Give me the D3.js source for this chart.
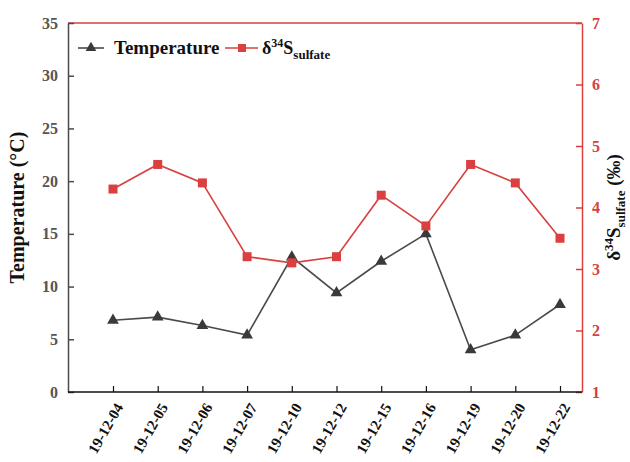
<!DOCTYPE html>
<html>
<head>
<meta charset="utf-8">
<script src="https://cdn.jsdelivr.net/npm/d3@7"></script>
<style>
  body { margin: 0; background: #fff; }
  svg text { font-family: "Liberation Serif", "Times New Roman", serif; font-weight: bold; }
</style>
</head>
<body>
<div id="chart"></div>
<script>
// Data
const dates = ["19-12-04", "19-12-05", "19-12-06", "19-12-07", "19-12-10", "19-12-12",
               "19-12-15", "19-12-16", "19-12-19", "19-12-20", "19-12-22"];
const temperature = [6.8, 7.1, 6.3, 5.4, 12.8, 9.4, 12.4, 15.0, 4.0, 5.4, 8.3];
const sulfate = [4.3, 4.7, 4.4, 3.2, 3.1, 3.2, 4.2, 3.7, 4.7, 4.4, 3.5];
const leftTicks = [0, 5, 10, 15, 20, 25, 30, 35];
const rightTicks = [1, 2, 3, 4, 5, 6, 7];

const width = 630, height = 462;
const margin = {top: 23, right: 48, bottom: 70, left: 68};
const red = "#d9403f";
const gray = "#4a4a4a";

const svg = d3.select("#chart").append("svg")
    .attr("width", width)
    .attr("height", height);

const x = d3.scalePoint()
    .domain(dates)
    .range([113, 560]);

const yLeft = d3.scaleLinear()
    .domain([0, 35])
    .range([height - margin.bottom, margin.top]);

const yRight = d3.scaleLinear()
    .domain([1, 7])
    .range([height - margin.bottom, margin.top]);

const x0 = margin.left, x1 = width - margin.right;
const yBottom = height - margin.bottom;

// top border (red)
svg.append("line")
    .attr("x1", x0).attr("x2", x1)
    .attr("y1", margin.top).attr("y2", margin.top)
    .attr("stroke", red).attr("stroke-width", 1.5);

// left axis
const leftAxis = svg.append("g")
    .attr("transform", `translate(${x0},0)`)
    .call(d3.axisLeft(yLeft).tickValues(leftTicks).tickSizeInner(-6).tickSizeOuter(0).tickPadding(10));
leftAxis.select(".domain").attr("stroke", gray).attr("stroke-width", 1.5);
leftAxis.selectAll(".tick line").attr("stroke", gray).attr("stroke-width", 1.5);
leftAxis.selectAll(".tick text").attr("fill", "#555").style("font-size", "16px");

// right axis
const rightAxis = svg.append("g")
    .attr("transform", `translate(${x1},0)`)
    .call(d3.axisRight(yRight).tickValues(rightTicks).tickFormat(d3.format("d"))
        .tickSizeInner(-6).tickSizeOuter(0).tickPadding(10));
rightAxis.select(".domain").attr("stroke", red).attr("stroke-width", 1.5);
rightAxis.selectAll(".tick line").attr("stroke", red).attr("stroke-width", 1.5);
rightAxis.selectAll(".tick text").attr("fill", red).style("font-size", "16px");

// bottom axis
const bottomAxis = svg.append("g")
    .attr("transform", `translate(0,${yBottom})`)
    .call(d3.axisBottom(x).tickSizeInner(-6).tickSizeOuter(0).tickPadding(6));
bottomAxis.select(".domain").attr("d", `M${x0},0H${x1}`).attr("stroke", "#111").attr("stroke-width", 1.5);
bottomAxis.selectAll(".tick line").attr("stroke", "#111").attr("stroke-width", 1.2);
bottomAxis.selectAll(".tick text")
    .attr("fill", "#111")
    .style("font-size", "15px")
    .attr("text-anchor", "end")
    .attr("dx", "0")
    .attr("dy", "0")
    .attr("transform", "translate(5,12) rotate(-60)");

// temperature line
svg.append("path")
    .datum(temperature)
    .attr("fill", "none")
    .attr("stroke", gray)
    .attr("stroke-width", 1.6)
    .attr("d", d3.line().x((d, i) => x(dates[i])).y(d => yLeft(d)));

svg.append("g").selectAll("path")
    .data(temperature)
    .join("path")
    .attr("transform", (d, i) => `translate(${x(dates[i])},${yLeft(d)})`)
    .attr("d", d3.symbol(d3.symbolTriangle, 60))
    .attr("fill", "#3a3a3a");

// sulfate line
svg.append("path")
    .datum(sulfate)
    .attr("fill", "none")
    .attr("stroke", red)
    .attr("stroke-width", 1.6)
    .attr("d", d3.line().x((d, i) => x(dates[i])).y(d => yRight(d)));

svg.append("g").selectAll("rect")
    .data(sulfate)
    .join("rect")
    .attr("x", (d, i) => x(dates[i]) - 4.5)
    .attr("y", d => yRight(d) - 4.5)
    .attr("width", 9)
    .attr("height", 9)
    .attr("fill", red);

// left axis title
svg.append("text")
    .attr("transform", `translate(24,${(margin.top + yBottom) / 2}) rotate(-90)`)
    .attr("text-anchor", "middle")
    .style("font-size", "20px")
    .attr("fill", "#111")
    .text("Temperature (\u00b0C)");

// right axis title
const rt = svg.append("text")
    .attr("transform", `translate(620,${(margin.top + yBottom) / 2}) rotate(-90)`)
    .attr("text-anchor", "middle")
    .style("font-size", "19px")
    .attr("fill", "#111");
rt.append("tspan").text("\u03b4");
rt.append("tspan").attr("dy", -7).style("font-size", "13px").text("34");
rt.append("tspan").attr("dy", 7).text("S");
rt.append("tspan").attr("dy", 5).style("font-size", "13px").text("sulfate");
rt.append("tspan").attr("dy", -5).text(" (\u2030)");

// legend
const legend = svg.append("g").attr("transform", "translate(78,48)");
legend.append("line").attr("x1", 0).attr("x2", 26).attr("stroke", gray).attr("stroke-width", 1.6);
legend.append("path").attr("transform", "translate(13,0)")
    .attr("d", d3.symbol(d3.symbolTriangle, 50)).attr("fill", "#3a3a3a");
legend.append("text").attr("x", 36).attr("y", 6)
    .style("font-size", "19px").attr("fill", "#111").text("Temperature");

legend.append("line").attr("x1", 147).attr("x2", 180).attr("stroke", red).attr("stroke-width", 1.6);
legend.append("rect").attr("x", 160).attr("y", -4).attr("width", 8).attr("height", 8).attr("fill", red);
const lt = legend.append("text").attr("x", 184).attr("y", 6)
    .style("font-size", "18px").attr("fill", "#111");
lt.append("tspan").text("\u03b4");
lt.append("tspan").attr("dy", -7).style("font-size", "12px").text("34");
lt.append("tspan").attr("dy", 7).text("S");
lt.append("tspan").attr("dy", 5).style("font-size", "13px").text("sulfate");
</script>
</body>
</html>
